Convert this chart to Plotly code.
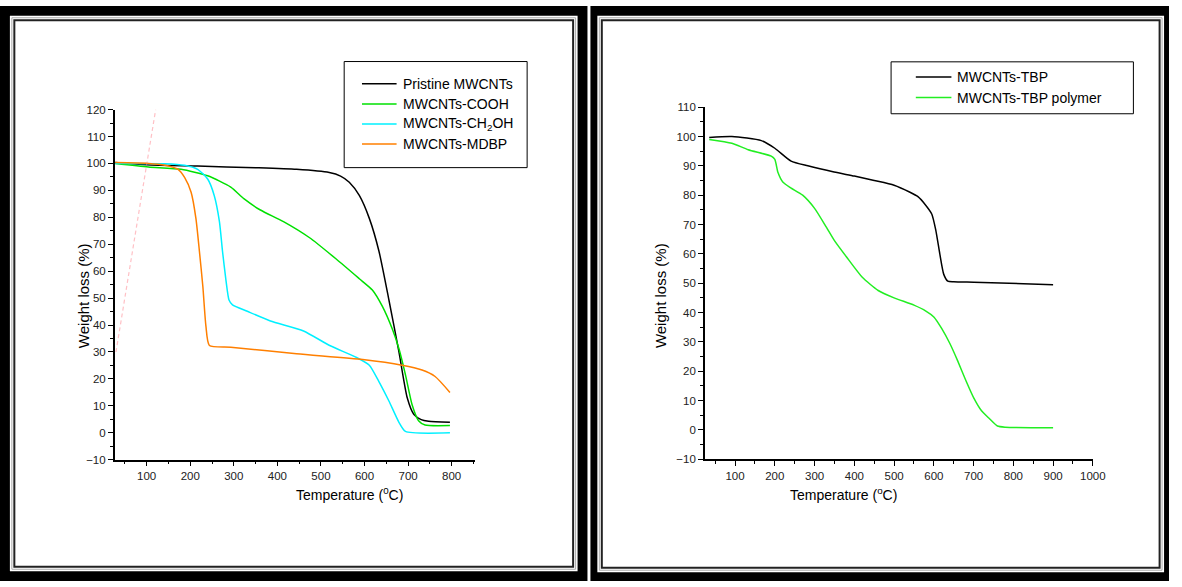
import plotly.graph_objects as go

# ---------------- data (left panel) ----------------
pristine_T = [28, 100, 217, 350, 444, 519, 545, 565, 588, 611, 633, 656, 679, 698, 713, 730, 747, 796]
pristine_W = [100.3, 99.5, 99.0, 98.4, 97.8, 96.6, 95.3, 93.0, 88.1, 79.6, 67.5, 49.3, 30.0, 13.0, 6.9, 4.9, 4.3, 3.9]

cooh_T = [28, 104, 179, 240, 293, 323, 361, 414, 474, 535, 588, 618, 641, 664, 679, 694, 709, 724, 739, 796]
cooh_W = [100.0, 98.7, 97.8, 95.4, 91.2, 86.9, 82.7, 78.4, 72.4, 64.5, 57.2, 53.0, 46.9, 38.4, 31.2, 21.5, 10.5, 4.5, 2.9, 2.7]

ch2oh_T = [28, 142, 187, 217, 240, 255, 267, 274, 282, 289, 297, 331, 384, 460, 520, 580, 611, 633, 656, 679, 694, 796]
ch2oh_W = [100.0, 99.9, 99.3, 97.8, 94.2, 88.1, 78.4, 67.5, 56.6, 49.3, 47.5, 45.1, 41.5, 37.8, 32.4, 28.1, 25.1, 19.0, 11.8, 3.9, 0.5, 0.0]

mdbp_T = [28, 104, 142, 172, 187, 202, 213, 221, 229, 236, 244, 293, 444, 596, 686, 732, 762, 796]
mdbp_W = [100.3, 100.0, 99.3, 97.8, 94.8, 89.3, 79.6, 67.5, 54.2, 39.6, 32.4, 31.8, 29.3, 27.2, 25.1, 23.3, 20.9, 15.0]

guide_T = [29.6, 120.7]
guide_W = [30, 120]

# ---------------- data (right panel) ----------------
tbp_T = [35, 92, 166, 200, 241, 283, 349, 400, 450, 500, 540, 560, 580, 595, 605, 615, 625, 635, 650, 700, 900]
tbp_W = [99.7, 100.0, 98.6, 96.0, 91.6, 90.0, 87.9, 86.5, 85.0, 83.4, 81.0, 79.5, 76.5, 73.5, 68.0, 60.0, 53.0, 50.7, 50.5, 50.3, 49.5]

poly_T = [35, 92, 133, 191, 200, 208, 220, 240, 270, 300, 330, 350, 380, 420, 460, 500, 550, 580, 600, 620, 640, 660, 680, 700, 720, 740, 760, 780, 900]
poly_W = [99.0, 97.7, 95.5, 93.3, 92.2, 87.7, 84.5, 82.5, 80.0, 75.5, 69.0, 64.5, 59.0, 52.0, 47.5, 45.0, 42.5, 40.5, 38.5, 34.5, 29.5, 23.5, 17.0, 11.0, 6.5, 3.8, 1.3, 0.9, 0.7]

left_names = ["Pristine MWCNTs", "MWCNTs-COOH", "MWCNTs-CH<sub>2</sub>OH", "MWCNTs-MDBP"]
left_colors = ["#000000", "#00e000", "#00f0ff", "#ff7f00"]
right_names = ["MWCNTs-TBP", "MWCNTs-TBP polymer"]
right_colors = ["#000000", "#22ee22"]

W, H = 1182, 587
FONT = "Liberation Sans, Arial, sans-serif"


def px(x):
    return x / W


def py(y):
    return 1 - y / H


fig = go.Figure()

left_series = [(pristine_T, pristine_W), (cooh_T, cooh_W), (ch2oh_T, ch2oh_W), (mdbp_T, mdbp_W)]
for (t, w), name, col in zip(left_series, left_names, left_colors):
    fig.add_trace(go.Scatter(x=t, y=w, mode="lines", name=name, showlegend=False,
                             line=dict(color=col, width=1.5, shape="spline", smoothing=0.6),
                             xaxis="x", yaxis="y"))
fig.add_trace(go.Scatter(x=guide_T, y=guide_W, mode="lines", showlegend=False,
                         line=dict(color="rgba(255,140,150,0.55)", width=1.2, dash="4px,3px"),
                         xaxis="x", yaxis="y"))

right_series = [(tbp_T, tbp_W), (poly_T, poly_W)]
for (t, w), name, col in zip(right_series, right_names, right_colors):
    fig.add_trace(go.Scatter(x=t, y=w, mode="lines", name=name, showlegend=False,
                             line=dict(color=col, width=1.5, shape="spline", smoothing=0.6),
                             xaxis="x2", yaxis="y2"))

axis_common = dict(showline=True, linecolor="black", linewidth=1.5, ticks="outside",
                   ticklen=5, tickwidth=1.2, tickcolor="black", showgrid=False, zeroline=False,
                   tickfont=dict(family=FONT, size=11.5, color="#222"))

fig.update_layout(
    width=W, height=H,
    margin=dict(l=0, r=0, t=0, b=0),
    paper_bgcolor="white", plot_bgcolor="rgba(0,0,0,0)",
    xaxis=dict(domain=[px(116), px(480)], range=[26.7, 852.9], tick0=100, dtick=100,
               minor=dict(tick0=50, dtick=50, ticklen=3, ticks="outside", tickcolor="black"),
               anchor="y", **axis_common),
    yaxis=dict(domain=[py(463.2), py(105.7)], range=[-10, 120], tick0=0, dtick=10,
               minor=dict(dtick=5, ticklen=3, ticks="outside", tickcolor="black"),
               anchor="x", **axis_common),
    xaxis2=dict(domain=[px(712.7), px(1105)], range=[24, 1000], tick0=100, dtick=100,
                minor=dict(tick0=50, dtick=50, ticklen=3, ticks="outside", tickcolor="black"),
                anchor="y2", **axis_common),
    yaxis2=dict(domain=[py(462.6), py(103.3)], range=[-10, 110], tick0=0, dtick=10,
                minor=dict(dtick=5, ticklen=3, ticks="outside", tickcolor="black"),
                anchor="x2", **axis_common),
)

shapes = []


def rect(x0, y0, x1, y1, fill=None, lc="black", lw=0, layer="below"):
    d = dict(type="rect", xref="paper", yref="paper", x0=px(x0), x1=px(x1), y0=py(y1), y1=py(y0),
             layer=layer, line=dict(color=lc, width=lw))
    if fill:
        d["fillcolor"] = fill
    return d


# panel frames
shapes += [rect(0, 0, 594, 587, fill="black"), rect(10, 10, 584, 577, fill="white"),
           rect(12, 12, 582, 575, lc="#aaaaaa", lw=1), rect(14.5, 14.5, 579.5, 572.5, lc="#222222", lw=2)]
shapes += [rect(597, 0, 1182, 587, fill="black"), rect(604, 10, 1177, 578, fill="white"),
           rect(606, 12, 1175, 576, lc="#aaaaaa", lw=1), rect(608.5, 14.5, 1172.5, 573.5, lc="#222222", lw=2)]

# legend boxes
shapes.append(rect(348, 56.7, 533, 165, fill="white", lc="black", lw=1, layer="above"))
shapes.append(rect(901, 57, 1146, 110, fill="white", lc="black", lw=1, layer="above"))

annotations = []
left_rows = [79.5, 100, 120.5, 141]
for yy, name, col in zip(left_rows, left_names, left_colors):
    shapes.append(dict(type="line", xref="paper", yref="paper", x0=px(366), x1=px(401),
                       y0=py(yy), y1=py(yy), line=dict(color=col, width=1.5), layer="above"))
    annotations.append(dict(x=px(405), y=py(yy), xref="paper", yref="paper", text=name,
                            showarrow=False, xanchor="left", yanchor="middle",
                            font=dict(family=FONT, size=14, color="black")))
right_rows = [72.5, 93.5]
for yy, name, col in zip(right_rows, right_names, right_colors):
    shapes.append(dict(type="line", xref="paper", yref="paper", x0=px(926), x1=px(962),
                       y0=py(yy), y1=py(yy), line=dict(color=col, width=1.5), layer="above"))
    annotations.append(dict(x=px(966), y=py(yy), xref="paper", yref="paper", text=name,
                            showarrow=False, xanchor="left", yanchor="middle",
                            font=dict(family=FONT, size=14, color="black")))

# axis titles
annotations += [
    dict(x=px(74), y=py(295.5), xref="paper", yref="paper", text="Weight loss (%)", textangle=-90,
         showarrow=False, font=dict(family=FONT, size=15, color="black")),
    dict(x=px(668), y=py(295.5), xref="paper", yref="paper", text="Weight loss (%)", textangle=-90,
         showarrow=False, font=dict(family=FONT, size=15, color="black")),
    dict(x=px(297), y=py(509), xref="paper", yref="paper", text="Temperature (<sup>0</sup>C)",
         showarrow=False, font=dict(family=FONT, size=14, color="black")),
    dict(x=px(909), y=py(509), xref="paper", yref="paper", text="Temperature (<sup>o</sup>C)",
         showarrow=False, font=dict(family=FONT, size=14, color="black")),
]

fig.update_layout(shapes=shapes, annotations=annotations)
fig.write_html("out.html", config={"displayModeBar": False, "responsive": False},
               post_script="document.body.style.margin='0';document.body.style.overflow='hidden';")
